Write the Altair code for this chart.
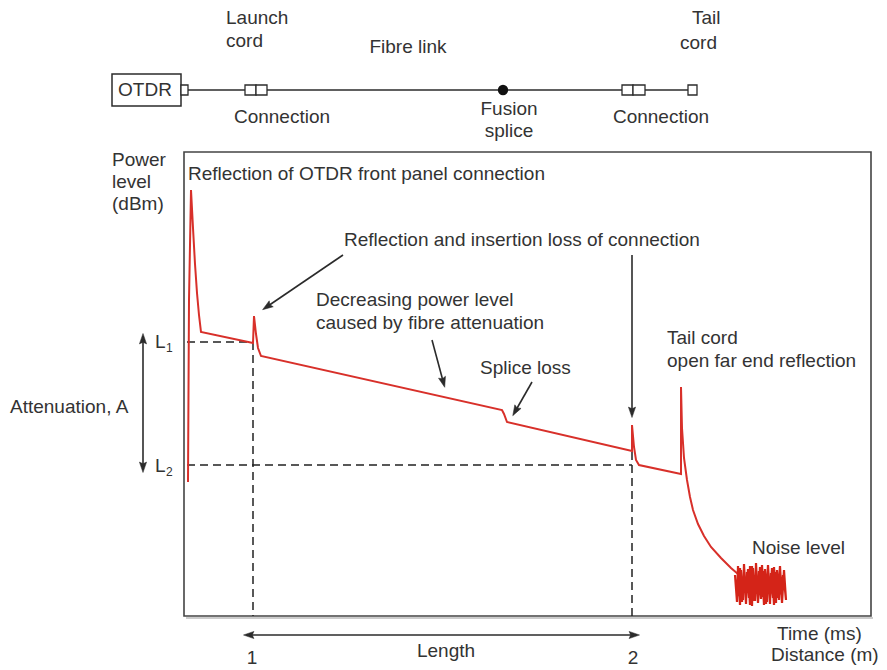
import altair as alt
import pandas as pd
import math

# ---- OTDR trace (x = position along time axis, y = power level, screen-like units) ----
trace_x = [188, 189, 191, 193, 195, 197, 199, 201, 253, 254, 256, 258, 261,
           502, 504, 507, 632, 632, 634, 636, 639, 681, 681, 682, 684, 687,
           690, 693, 698, 704, 711, 721, 731, 738]
trace_y = [482, 300, 190, 228, 264, 293, 315, 332, 343, 316, 334, 348, 356,
           410, 414, 422, 451, 425, 447, 460, 465, 474, 387, 428, 458, 480,
           497, 510, 524, 536, 547, 558, 568, 574]

noise_x = [735, 737, 738, 740, 741, 743, 744, 746, 747, 749, 750, 752, 753, 755,
           756, 758, 759, 761, 762, 764, 765, 767, 768, 770, 771, 773, 774, 776,
           777, 779, 780, 782, 783, 785,
           786, 784, 782, 780, 778, 776, 774, 772, 770, 768, 766, 764, 762, 760,
           758, 756, 754, 752, 750, 748, 746, 744, 742, 740, 738, 736,
           739, 745, 751, 757, 763, 769, 775, 781]
noise_y = [575, 602, 566, 605, 570, 600, 564, 604, 572, 598, 566, 606, 568, 601,
           563, 603, 571, 599, 565, 605, 569, 602, 566, 604, 573, 598, 567, 603,
           570, 600, 568, 596, 575, 590,
           600, 570, 603, 566, 598, 572, 605, 568, 600, 565, 604, 571, 597, 567,
           603, 570, 601, 566, 605, 569, 598, 573, 602, 568, 596, 580,
           588, 584, 592, 580, 590, 586, 582, 594]

# ---- markers on the trace ----
event_x = [253, 632]          # connection 1 and 2 positions ("1", "2")
level_y = [342, 465]          # L1 and L2 levels
plot_left, plot_right, plot_top, plot_bottom = 184, 871, 152, 616

# ---- link diagram ----
link_y = 90
otdr_box = [112, 181, 74, 106]
small_boxes = [(181, 188), (245, 256), (256, 267), (622, 633), (633, 645), (688, 697)]
link_segments = [(188, 245), (267, 622), (645, 688)]
splice_x = 503

# ---- texts ----
texts_left = [
    ("Launch", 226, 18), ("cord", 226, 41),
    ("Tail", 692, 18), ("cord", 680, 43),
    ("Power", 112, 160), ("level", 112, 182), ("(dBm)", 112, 204),
    ("Reflection of OTDR front panel connection", 188, 174),
    ("Reflection and insertion loss of connection", 344, 240),
    ("Decreasing power level", 316, 300),
    ("caused by fibre attenuation", 316, 323),
    ("Splice loss", 480, 368),
    ("Tail cord", 667, 338),
    ("open far end reflection", 667, 361),
    ("Noise level", 752, 548),
    ("Attenuation, A", 10, 407),
    ("L", 155, 342), ("L", 155, 466),
    ("Time (ms)", 777, 634), ("Distance (m)", 771, 655),
]
texts_center = [
    ("OTDR", 145, 90), ("Fibre link", 408, 47),
    ("Connection", 282, 117), ("Fusion", 509, 109), ("splice", 509, 131),
    ("Connection", 661, 117),
    ("Length", 446, 651), ("1", 252, 658), ("2", 633, 658),
]
subscripts = [("1", 166, 348), ("2", 166, 472)]

# ---- arrows: (x_start, y_start, x_end(head), y_end(head)) ----
arrows = [
    (343, 255, 268, 306),
    (432, 340, 443, 381),
    (532, 382, 516, 410),
    (632, 255, 632, 411),
]
double_arrows = [
    (143, 340, 143, 466),
    (250, 635, 633, 635),
]

W, H = 871, 662
xs = alt.Scale(domain=[8, 8 + W], nice=False, zero=False)
ys = alt.Scale(domain=[8, 8 + H], nice=False, zero=False, reverse=True)
X = lambda f: alt.X(f, type="quantitative", scale=xs, axis=None)
Y = lambda f: alt.Y(f, type="quantitative", scale=ys, axis=None)
X2 = lambda f: alt.X2(f)
Y2 = lambda f: alt.Y2(f)

RED = "#d8302a"
INK = "#2b2b2b"
TXT = "#333333"
FONT = "Liberation Sans"
FS = 19

layers = []

# plot frame
frame = pd.DataFrame([{"x": plot_left, "x2": plot_right, "y": plot_top, "y2": plot_bottom}])
layers.append(alt.Chart(frame).mark_rect(fill=None, stroke="#444444", strokeWidth=1.6).encode(
    x=X("x"), x2=X2("x2"), y=Y("y"), y2=Y2("y2")))
shadow = pd.DataFrame([{"x": plot_left + 2, "x2": plot_right + 2, "y": plot_bottom + 2, "y2": plot_bottom + 2}])
layers.append(alt.Chart(shadow).mark_rule(stroke="#9a9a9a", strokeWidth=1.2).encode(
    x=X("x"), x2=X2("x2"), y=Y("y"), y2=Y2("y2")))

# dashed guides
dash_rows = [
    {"x": plot_left + 3, "x2": event_x[0], "y": level_y[0], "y2": level_y[0]},
    {"x": plot_left + 3, "x2": event_x[1], "y": level_y[1], "y2": level_y[1]},
    {"x": event_x[0], "x2": event_x[0], "y": level_y[0], "y2": plot_bottom},
    {"x": event_x[1], "x2": event_x[1], "y": 452, "y2": plot_bottom},
]
layers.append(alt.Chart(pd.DataFrame(dash_rows)).mark_rule(
    stroke="#222222", strokeWidth=1.5, strokeDash=[8, 5]).encode(
    x=X("x"), x2=X2("x2"), y=Y("y"), y2=Y2("y2")))

# trace
tr = pd.DataFrame({"x": trace_x, "y": trace_y, "o": range(len(trace_x))})
layers.append(alt.Chart(tr).mark_line(color=RED, strokeWidth=2, interpolate="linear").encode(
    x=X("x"), y=Y("y"), order="o:Q"))
nz = pd.DataFrame({"x": noise_x, "y": noise_y, "o": range(len(noise_x))})
layers.append(alt.Chart(nz).mark_line(color="#d42418", strokeWidth=2.2, interpolate="linear").encode(
    x=X("x"), y=Y("y"), order="o:Q"))

# arrows
shaft_rows, head_rows = [], []
for (x0, y0, x1, y1) in arrows:
    shaft_rows.append({"x": x0, "y": y0, "x2": x1, "y2": y1})
    ang = math.degrees(math.atan2(x1 - x0, -(y1 - y0))) % 360
    head_rows.append({"x": x1, "y": y1, "a": ang})
for (x0, y0, x1, y1) in double_arrows:
    shaft_rows.append({"x": x0, "y": y0, "x2": x1, "y2": y1})
    ang = math.degrees(math.atan2(x1 - x0, -(y1 - y0))) % 360
    head_rows.append({"x": x1, "y": y1, "a": ang})
    head_rows.append({"x": x0, "y": y0, "a": (ang + 180) % 360})
layers.append(alt.Chart(pd.DataFrame(shaft_rows)).mark_rule(stroke=INK, strokeWidth=1.6).encode(
    x=X("x"), x2=X2("x2"), y=Y("y"), y2=Y2("y2")))
arrow_shape = "M0,-1L0.55,0.6L0,0.35L-0.55,0.6Z"
layers.append(alt.Chart(pd.DataFrame(head_rows)).mark_point(
    shape=arrow_shape, filled=True, fill=INK, stroke=INK, strokeWidth=0.5, size=170, opacity=1).encode(
    x=X("x"), y=Y("y"), angle=alt.Angle("a:Q", scale=None)))

# link diagram
lk = pd.DataFrame([{"x": a, "x2": b, "y": link_y, "y2": link_y} for a, b in link_segments])
layers.append(alt.Chart(lk).mark_rule(stroke=INK, strokeWidth=1.5).encode(
    x=X("x"), x2=X2("x2"), y=Y("y"), y2=Y2("y2")))
ob = pd.DataFrame([{"x": otdr_box[0], "x2": otdr_box[1], "y": otdr_box[2], "y2": otdr_box[3]}])
layers.append(alt.Chart(ob).mark_rect(fill="white", stroke=INK, strokeWidth=1.5).encode(
    x=X("x"), x2=X2("x2"), y=Y("y"), y2=Y2("y2")))
sb = pd.DataFrame([{"x": a, "x2": b, "y": link_y - 5, "y2": link_y + 5} for a, b in small_boxes])
layers.append(alt.Chart(sb).mark_rect(fill="white", stroke=INK, strokeWidth=1.3).encode(
    x=X("x"), x2=X2("x2"), y=Y("y"), y2=Y2("y2")))
layers.append(alt.Chart(pd.DataFrame([{"x": splice_x, "y": link_y}])).mark_point(
    shape="circle", filled=True, fill="#111111", stroke="#111111", size=70, opacity=1).encode(
    x=X("x"), y=Y("y")))

# texts
tl = pd.DataFrame(texts_left, columns=["t", "x", "y"])
layers.append(alt.Chart(tl).mark_text(align="left", baseline="middle", font=FONT, fontSize=FS, color=TXT).encode(
    x=X("x"), y=Y("y"), text="t:N"))
tc = pd.DataFrame(texts_center, columns=["t", "x", "y"])
layers.append(alt.Chart(tc).mark_text(align="center", baseline="middle", font=FONT, fontSize=FS, color=TXT).encode(
    x=X("x"), y=Y("y"), text="t:N"))
ts = pd.DataFrame(subscripts, columns=["t", "x", "y"])
layers.append(alt.Chart(ts).mark_text(align="left", baseline="middle", font=FONT, fontSize=12, color=TXT).encode(
    x=X("x"), y=Y("y"), text="t:N"))

chart = alt.layer(*layers).properties(
    width=W, height=H, padding=0, autosize=alt.AutoSizeParams(type="none"),
    background="white",
).configure_view(stroke=None)

chart.save("out.html", embed_options={"renderer": "svg", "actions": False})
